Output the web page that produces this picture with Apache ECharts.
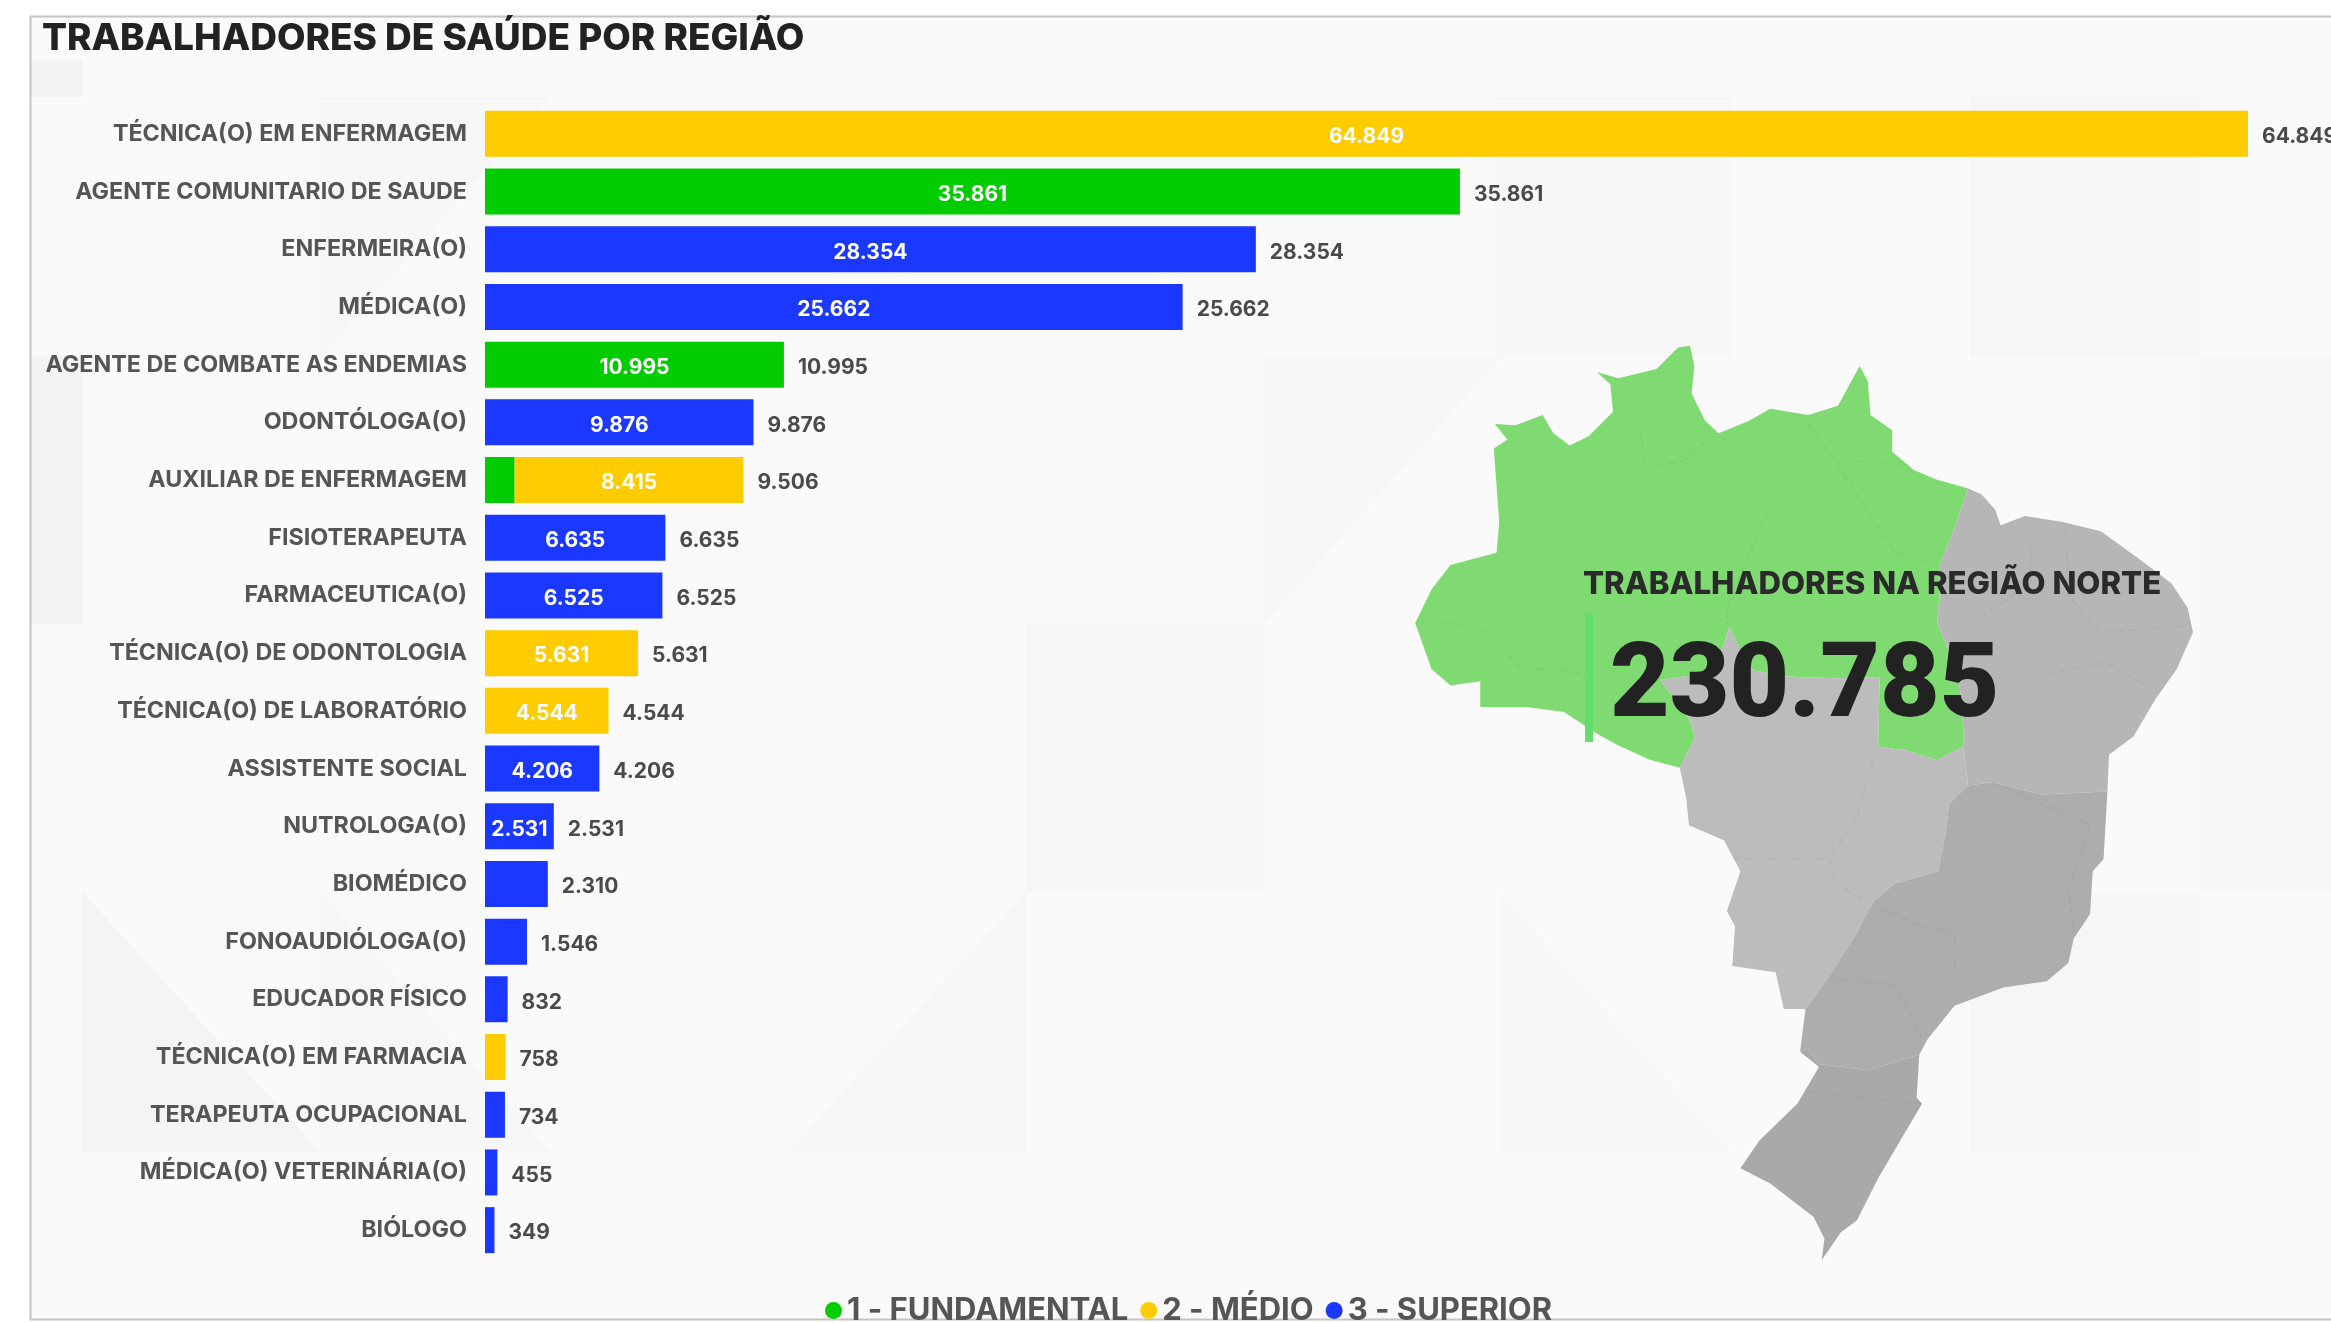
<!DOCTYPE html>
<html>
<head>
<meta charset="utf-8">
<title>Trabalhadores de saúde por região</title>
<script src="https://cdn.jsdelivr.net/npm/echarts@6/dist/echarts.min.js"></script>
<style>
  html, body { margin: 0; padding: 0; background: #fff; }
  #chart { width: 2331px; height: 1323px; }
</style>
</head>
<body>
<div id="chart"></div>
<script>
// 数据：从图上读出
const categories = [
  'TÉCNICA(O) EM ENFERMAGEM', 'AGENTE COMUNITARIO DE SAUDE', 'ENFERMEIRA(O)', 'MÉDICA(O)',
  'AGENTE DE COMBATE AS ENDEMIAS', 'ODONTÓLOGA(O)', 'AUXILIAR DE ENFERMAGEM', 'FISIOTERAPEUTA',
  'FARMACEUTICA(O)', 'TÉCNICA(O) DE ODONTOLOGIA', 'TÉCNICA(O) DE LABORATÓRIO', 'ASSISTENTE SOCIAL',
  'NUTROLOGA(O)', 'BIOMÉDICO', 'FONOAUDIÓLOGA(O)', 'EDUCADOR FÍSICO',
  'TÉCNICA(O) EM FARMACIA', 'TERAPEUTA OCUPACIONAL', 'MÉDICA(O) VETERINÁRIA(O)', 'BIÓLOGO'
]
const fundamental = [null, 35861, null, null, 10995, null, 1091, null, null, null, null, null, null, null, null, null, null, null, null, null]
const medio = [64849, null, null, null, null, null, 8415, null, null, 5631, 4544, null, null, null, null, null, 758, null, null, null]
const superior = [null, null, 28354, 25662, null, 9876, null, 6635, 6525, null, null, 4206, 2531, 2310, 1546, 832, null, 734, 455, 349]
const totals = [64849, 35861, 28354, 25662, 10995, 9876, 9506, 6635, 6525, 5631, 4544, 4206, 2531, 2310, 1546, 832, 758, 734, 455, 349]

const totalRegiao = '230.785'

// 地图轮廓：按截图描的，单位是放大图坐标，toGeo 再换回页面像素
const mapNorte = [[212,170],[250,172],[300,155],[320,185],[350,205],[385,190],[430,150],[425,105],[400,85],[440,95],[510,80],[550,45],[572,42],[580,75],[575,120],[600,165],[625,185],[680,165],[720,145],[790,155],[845,140],[885,75],[900,100],[905,155],[945,180],[945,215],[985,245],[1025,260],[1085,275],[1060,340],[1033,400],[1033,446],[1028,495],[1045,530],[1070,600],[1076,665],[1076,697],[1028,719],[972,703],[919,697],[922,583],[840,585],[750,582],[688,572],[660,530],[645,501],[633,534],[603,577],[517,588],[572,653],[581,682],[553,731],[498,718],[440,695],[397,674],[340,640],[270,632],[185,632],[185,590],[130,597],[95,570],[65,495],[95,440],[130,400],[215,380],[220,330],[210,210],[235,195]]
const mapNordeste = [[1085,275],[1110,285],[1135,310],[1145,335],[1190,320],[1260,330],[1330,345],[1400,390],[1460,430],[1490,470],[1500,510],[1470,570],[1430,620],[1390,680],[1345,710],[1342,770],[1220,775],[1130,755],[1085,760],[1076,697],[1076,665],[1070,600],[1045,530],[1028,495],[1033,446],[1033,400],[1060,340]]
const mapCentroOeste = [[645,501],[660,530],[688,572],[750,582],[840,585],[922,583],[919,697],[972,703],[1028,719],[1076,697],[1085,760],[1050,790],[1045,830],[1030,900],[950,920],[910,950],[880,1000],[830,1070],[785,1125],[745,1125],[730,1065],[650,1055],[655,990],[640,965],[665,900],[635,850],[570,825],[565,780],[553,731],[581,682],[572,653],[517,588],[603,577],[633,534]]
const mapSudeste = [[785,1125],[830,1070],[880,1000],[910,950],[950,920],[1030,900],[1045,830],[1050,790],[1085,760],[1130,755],[1220,775],[1342,770],[1335,880],[1315,900],[1310,970],[1280,1010],[1270,1050],[1230,1080],[1150,1090],[1060,1120],[1010,1175],[995,1200],[900,1225],[810,1215],[790,1190],[775,1195]]
const mapSul = [[775,1195],[790,1190],[810,1215],[900,1225],[995,1200],[990,1270],[1000,1280],[960,1340],[920,1400],[880,1470],[850,1490],[815,1535],[820,1500],[800,1465],[720,1410],[665,1385],[700,1340],[770,1280],[810,1220]]
// 州界虚线
const stateLines = [
  [[480,180],[490,240],[560,230],[610,190]],
  [[715,310],[640,470],[640,500]],
  [[880,230],[1000,240]],
  [[790,170],[840,230],[950,380],[1030,400]],
  [[100,490],[200,510],[260,570],[330,570],[380,580]],
  [[1200,360],[1200,430],[1100,490]],
  [[1265,340],[1270,450],[1330,510],[1490,500]],
  [[1210,580],[1340,560],[1420,600]],
  [[1130,755],[1310,825],[1270,930],[1280,1000]],
  [[910,720],[880,810],[830,880],[840,920],[900,950]],
  [[650,880],[820,880]],
  [[920,960],[1000,990],[1060,1000],[1060,1080]],
  [[830,1075],[950,1085],[1000,1170]],
  [[790,1260],[1000,1280]]
]

const FONT = 'Inter'
const COLORS = { fundamental: '#00cc00', medio: '#ffcc00', superior: '#1a38ff' }
const toGeo = ([x, y]) => [1380 + x / 1.845, -(320 + y / 1.633)]

const regionPolygon = (name, points) => {
  const ring = points.map(toGeo)
  ring.push(ring[0])
  return {
    type: 'Feature',
    properties: { name },
    geometry: { type: 'Polygon', coordinates: [ring] }
  }
}

echarts.registerMap('brasil', {
  type: 'FeatureCollection',
  features: [
    regionPolygon('Norte', mapNorte),
    regionPolygon('Nordeste', mapNordeste),
    regionPolygon('Centro-Oeste', mapCentroOeste),
    regionPolygon('Sudeste', mapSudeste),
    regionPolygon('Sul', mapSul)
  ]
})

const allPoints = [...mapNorte, ...mapNordeste, ...mapSudeste, ...mapSul].map(toGeo)
const mapLeft = Math.min(...allPoints.map(p => p[0]))
const mapRight = Math.max(...allPoints.map(p => p[0]))
const mapTop = -Math.max(...allPoints.map(p => p[1]))
const mapBottom = -Math.min(...allPoints.map(p => p[1]))

const fmt = (value) => String(value).replace(/\B(?=(\d{3})+$)/g, '.')

// 柱内白字：放不下的不显示
const innerLabel = {
  show: true,
  position: 'inside',
  color: '#fff',
  fontFamily: FONT,
  fontWeight: 700,
  fontSize: 21,
  offset: [0, 3],
  formatter: (p) => (p.value >= 2500 ? fmt(p.value) : '')
}

const barSeries = (name, data, color) => ({
  name,
  type: 'bar',
  stack: 'nivel',
  barWidth: 46,
  data,
  itemStyle: { color },
  label: innerLabel
})

// 背景的浅色三角块
const backdrop = [
  { pts: [[30,16],[2331,16],[2331,1320],[30,1320]], fill: '#fafafa' },
  { pts: [[30,60],[82,60],[82,97],[30,97]], fill: '#f3f3f3' },
  { pts: [[30,357],[82,357],[82,624],[30,624]], fill: '#f3f3f3' },
  { pts: [[320,97],[550,97],[320,357]], fill: '#f7f7f7' },
  { pts: [[1026,624],[1264,624],[1264,892],[1026,892]], fill: '#f6f6f6' },
  { pts: [[1264,357],[1501,357],[1264,624]], fill: '#f7f7f7' },
  { pts: [[1496,97],[1732,97],[1732,357],[1496,357]], fill: '#f7f7f7' },
  { pts: [[1970,97],[2200,97],[2200,357],[1970,357]], fill: '#f6f6f6' },
  { pts: [[1970,892],[2200,892],[2200,1152],[1970,1152]], fill: '#f6f6f6' },
  { pts: [[2200,357],[2331,357],[2331,892],[2200,892]], fill: '#f7f7f7' },
  { pts: [[82,892],[82,1152],[320,1152]], fill: '#f4f4f4' },
  { pts: [[320,892],[550,1152],[320,1152]], fill: '#f7f7f7' },
  { pts: [[788,1152],[1026,1152],[1026,892]], fill: '#f7f7f7' },
  { pts: [[1501,892],[1732,1152],[1501,1152]], fill: '#f8f8f8' }
]

const chart = echarts.init(document.getElementById('chart'))

chart.setOption({
  animation: false,
  backgroundColor: '#fff',
  title: [
    {
      text: 'TRABALHADORES DE SAÚDE POR REGIÃO',
      left: 42,
      top: 20,
      padding: 0,
      textStyle: { fontFamily: FONT, fontSize: 37, fontWeight: 800, color: '#222' }
    },
    {
      text: 'TRABALHADORES NA REGIÃO NORTE',
      left: 1583,
      top: 569,
      padding: 0,
      textStyle: { fontFamily: FONT, fontSize: 31.2, fontWeight: 800, color: '#2a2a2a' }
    },
    {
      text: totalRegiao,
      left: 1610,
      top: 639,
      padding: 0,
      textStyle: { fontFamily: 'Roboto', fontSize: 103, fontWeight: 900, color: '#222' }
    }
  ],
  legend: {
    data: ['1 - FUNDAMENTAL', '2 - MÉDIO', '3 - SUPERIOR'],
    left: 820,
    top: 1290,
    icon: 'circle',
    itemWidth: 17,
    itemHeight: 17,
    itemGap: 12,
    textStyle: { fontFamily: FONT, fontSize: 31, fontWeight: 700, color: '#555', padding: 0 }
  },
  grid: { left: 485, top: 105, width: 1763, height: 1154 },
  xAxis: { type: 'value', min: 0, max: 64849, show: false },
  yAxis: {
    type: 'category',
    inverse: true,
    data: categories,
    axisLine: { show: false },
    axisTick: { show: false },
    axisLabel: { margin: 18, fontFamily: FONT, fontSize: 23.3, fontWeight: 700, color: '#555', padding: [4, 0, 0, 0] }
  },
  geo: {
    map: 'brasil',
    roam: false,
    silent: true,
    aspectScale: 1,
    left: mapLeft,
    top: mapTop,
    width: mapRight - mapLeft,
    height: mapBottom - mapTop,
    label: { show: false },
    itemStyle: { areaColor: '#b5b5b5', borderWidth: 0 },
    regions: [
      { name: 'Norte', itemStyle: { areaColor: '#7fda71' } },
      { name: 'Nordeste', itemStyle: { areaColor: '#b6b6b6' } },
      { name: 'Centro-Oeste', itemStyle: { areaColor: '#bcbcbc' } },
      { name: 'Sudeste', itemStyle: { areaColor: '#adadad' } },
      { name: 'Sul', itemStyle: { areaColor: '#a9a9a9' } }
    ]
  },
  graphic: [
    ...backdrop.map(b => ({
      type: 'polygon',
      silent: true,
      z: -10,
      shape: { points: b.pts },
      style: { fill: b.fill }
    })),
    {
      type: 'rect',
      silent: true,
      z: -5,
      shape: { x: 30.5, y: 16.5, width: 2320, height: 1303 },
      style: { fill: 'none', stroke: '#c4c4c4', lineWidth: 2 }
    },
    {
      type: 'rect',
      silent: true,
      z: 10,
      shape: { x: 1585, y: 613, width: 8, height: 129 },
      style: { fill: '#63dd6c' }
    }
  ],
  series: [
    barSeries('1 - FUNDAMENTAL', fundamental, COLORS.fundamental),
    barSeries('2 - MÉDIO', medio, COLORS.medio),
    barSeries('3 - SUPERIOR', superior, COLORS.superior),
    {
      name: 'Total',
      type: 'line',
      data: totals,
      symbol: 'circle',
      symbolSize: 0,
      lineStyle: { opacity: 0 },
      z: 5,
      label: {
        show: true,
        position: 'right',
        distance: 14,
        offset: [0, 3],
        color: '#4a4a4a',
        fontFamily: FONT,
        fontWeight: 700,
        fontSize: 21,
        formatter: (p) => fmt(p.value)
      }
    },
    {
      name: 'Divisas',
      type: 'lines',
      coordinateSystem: 'geo',
      polyline: true,
      silent: true,
      data: stateLines.map(line => ({ coords: line.map(toGeo) })),
      lineStyle: { color: 'rgba(0,0,0,0.06)', width: 2, type: 'dashed' }
    }
  ]
})
</script>
</body>
</html>
